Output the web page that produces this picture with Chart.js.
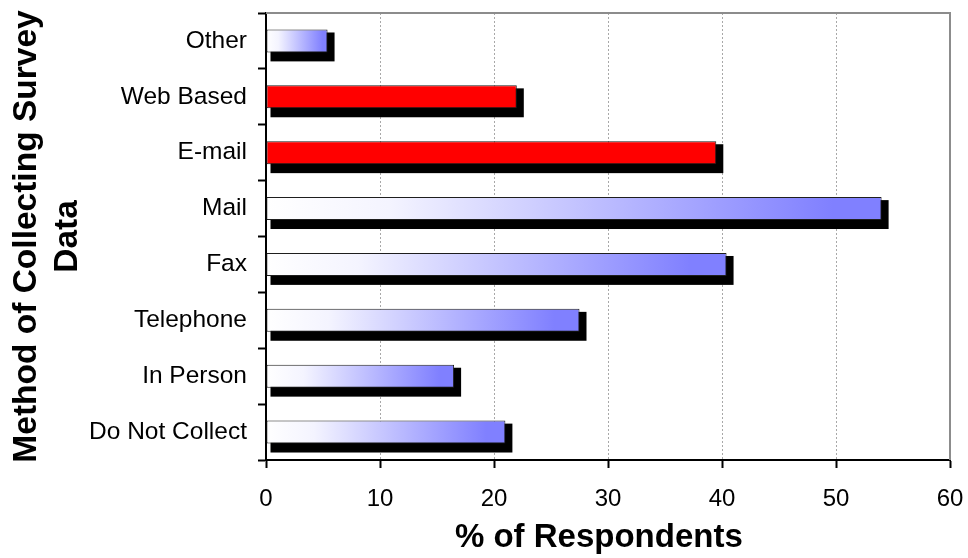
<!DOCTYPE html>
<html>
<head>
<meta charset="utf-8">
<script src="https://cdn.jsdelivr.net/npm/chart.js@4/dist/chart.umd.min.js"></script>
<style>
  html, body { margin: 0; padding: 0; background: #ffffff; }
  #wrap { width: 968px; height: 558px; }
</style>
</head>
<body>
<div id="wrap"><canvas id="c" width="968" height="558"></canvas></div>
<script>
// Survey collection methods, listed top to bottom
const methods = ['Other', 'Web Based', 'E-mail', 'Mail', 'Fax', 'Telephone', 'In Person', 'Do Not Collect'];
// Share of respondents using each method (%)
const respondents = [5.4, 22, 39.5, 54, 40.4, 27.5, 16.5, 21];
// Electronic methods are highlighted in solid red
const highlighted = ['Web Based', 'E-mail'];
const xTicks = [0, 10, 20, 30, 40, 50, 60];

const FONT = '"Liberation Sans", Arial, sans-serif';

function barFill(ctx) {
  const chart = ctx.chart;
  const label = methods[ctx.dataIndex];
  if (highlighted.includes(label)) return '#ff0000';
  const xs = chart.scales.x;
  if (!xs || !chart.chartArea) return '#8080ff';
  const x0 = xs.getPixelForValue(0);
  const x1 = xs.getPixelForValue(ctx.raw);
  if (!isFinite(x0) || !isFinite(x1) || x1 <= x0) return '#8080ff';
  const g = chart.ctx.createLinearGradient(x0, 0, x1, 0);
  g.addColorStop(0, '#ffffff');
  g.addColorStop(0.2, '#f4f4ff');
  g.addColorStop(0.92, '#8080ff');
  g.addColorStop(1, '#8080ff');
  return g;
}

// Drop shadows behind the bars and the grey plot frame
const shadowPlugin = {
  id: 'barShadow',
  beforeDatasetsDraw(chart) {
    const { ctx, chartArea } = chart;
    ctx.save();
    ctx.strokeStyle = '#8c8c8c';
    ctx.lineWidth = 2;
    ctx.beginPath();
    ctx.moveTo(chartArea.left, chartArea.top);
    ctx.lineTo(chartArea.right, chartArea.top);
    ctx.lineTo(chartArea.right, chartArea.bottom);
    ctx.stroke();
    const meta = chart.getDatasetMeta(0);
    ctx.fillStyle = '#000000';
    meta.data.forEach(bar => {
      const h = bar.height;
      const top = bar.y - h / 2;
      ctx.fillRect(bar.base + 4, top + 3, bar.x + 7 - (bar.base + 4), h + 6);
    });
    ctx.restore();
  }
};

new Chart(document.getElementById('c'), {
  type: 'bar',
  data: {
    labels: methods,
    datasets: [{
      data: respondents,
      backgroundColor: barFill,
      borderColor: '#1e1e1e',
      borderWidth: 1,
      borderSkipped: false,
      barPercentage: 0.41,
      categoryPercentage: 1
    }]
  },
  options: {
    indexAxis: 'y',
    responsive: false,
    animation: false,
    events: [],
    layout: { padding: { top: 13, right: 18, left: 0, bottom: 0 } },
    plugins: { legend: { display: false }, tooltip: { enabled: false } },
    scales: {
      x: {
        min: 0, max: 60,
        afterBuildTicks(scale) { scale.ticks = xTicks.map(v => ({ value: v })); },
        afterFit(scale) {
          scale.height = 98;
          scale.paddingLeft = 0;
          scale.paddingRight = 0;
        },
        grid: {
          color: c => (c.index === 0 || c.index === xTicks.length - 1) ? 'rgba(0,0,0,0)' : '#a8a8a8',
          lineWidth: 1,
          tickColor: '#000000',
          tickLength: 8,
          tickWidth: 2
        },
        border: { color: '#000000', width: 2, dash: [2, 2] },
        ticks: { color: '#000000', padding: 17, font: { family: FONT, size: 24 } },
        title: {
          display: true,
          text: '% of Respondents\u00a0\u00a0',
          color: '#000000',
          padding: { top: 4, bottom: 0 },
          font: { family: FONT, size: 33, weight: 'bold' }
        }
      },
      y: {
        afterFit(scale) {
          scale.width = 266;
          scale.paddingTop = 0;
          scale.paddingBottom = 0;
        },
        grid: {
          offset: true,
          drawOnChartArea: false,
          tickColor: '#000000',
          tickLength: 8,
          tickWidth: 2
        },
        border: { color: '#000000', width: 2 },
        ticks: { color: '#000000', padding: 11, font: { family: FONT, size: 24.5 } },
        title: {
          display: true,
          text: ['Method of Collecting Survey', 'Data'],
          color: '#000000',
          padding: { top: 7, bottom: 0 },
          font: { family: FONT, size: 33.5, weight: 'bold', lineHeight: 1.2 }
        }
      }
    }
  },
  plugins: [shadowPlugin]
});
</script>
</body>
</html>
